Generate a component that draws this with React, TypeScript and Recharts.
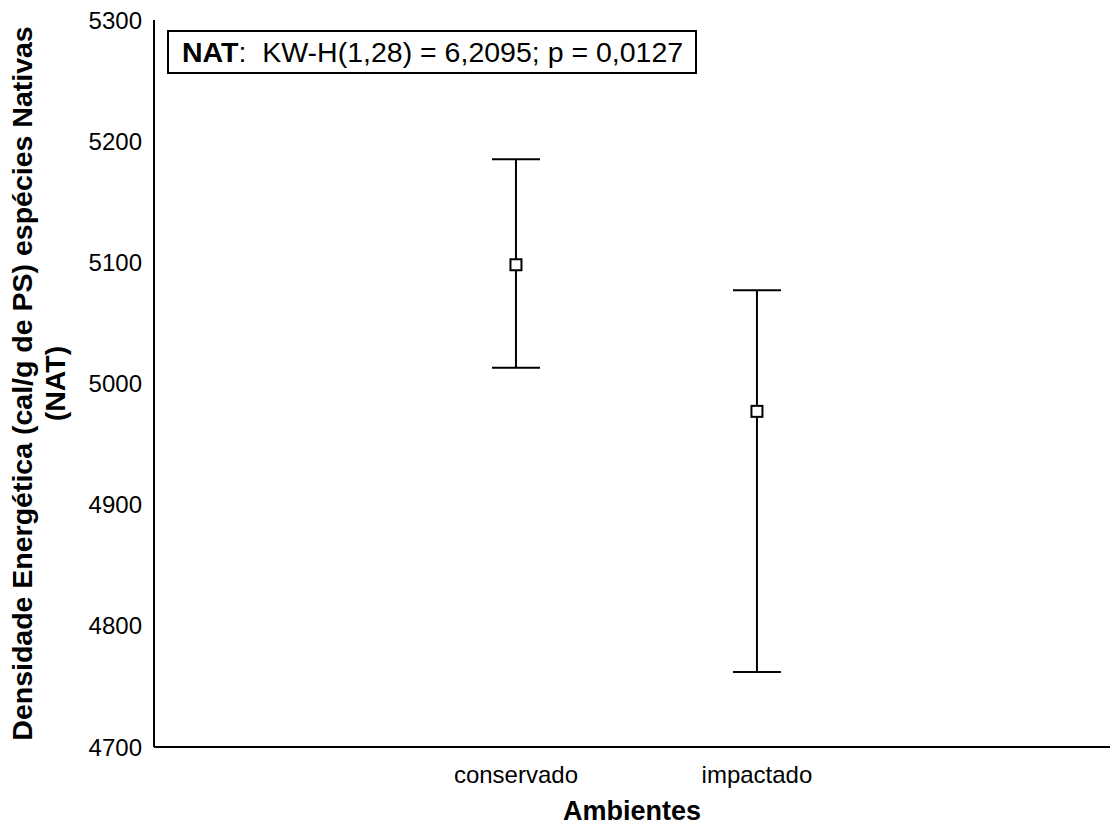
import React from 'react';
import {
  ComposedChart, Scatter, ErrorBar, XAxis, YAxis,
} from 'recharts';

const categories = ['conservado', 'impactado'];
const means = [5098, 4977];
const upper = [5185, 5077];
const lower = [5013, 4762];
const yTicks = [4700, 4800, 4900, 5000, 5100, 5200, 5300];

const FONT = '"Liberation Sans", Arial, sans-serif';

const data = categories.map((name, i) => ({
  x: i + 1,
  name,
  y: means[i],
  err: [means[i] - lower[i], upper[i] - means[i]],
}));

function SquareMarker({ cx, cy }: { cx?: number; cy?: number }) {
  if (cx == null || cy == null) return null;
  return (
    <rect x={cx - 5.5} y={cy - 5.5} width={11} height={11}
      fill="#fff" stroke="#000" strokeWidth={2} />
  );
}

function YTitle({ viewBox }: any) {
  const cy = viewBox.y + viewBox.height / 2;
  return (
    <g fontFamily={FONT} fontWeight="bold" fontSize={28.5} fill="#000">
      <text x={32} y={cy} textAnchor="middle" transform={`rotate(-90, 32, ${cy})`}>
        Densidade Energética (cal/g de PS) espécies Nativas
      </text>
      <text x={65} y={cy} textAnchor="middle" transform={`rotate(-90, 65, ${cy})`}>
        (NAT)
      </text>
    </g>
  );
}

function XTitle({ viewBox }: any) {
  const cx = viewBox.x + viewBox.width / 2;
  return (
    <text x={cx} y={820} textAnchor="middle" fontFamily={FONT}
      fontWeight="bold" fontSize={27} fill="#000">
      Ambientes
    </text>
  );
}

export default function App() {
  return (
    <div style={{ position: 'absolute', left: 0, top: 0, width: 1110, height: 829, background: '#fff' }}>
      <ComposedChart width={1110} height={829} data={data}
        margin={{ top: 20, right: 0, bottom: 0, left: 0 }}>
        <XAxis
          dataKey="x"
          type="number"
          domain={[-0.502, 3.465]}
          ticks={[1, 2]}
          tickFormatter={(v: number) => categories[v - 1] ?? ''}
          tick={{ fontFamily: FONT, fontSize: 24, fill: '#000' }}
          axisLine={{ stroke: '#000', strokeWidth: 2 }}
          tickLine={false}
          tickSize={6}
          tickMargin={13}
          height={82}
          label={<XTitle />}
        />
        <YAxis
          type="number"
          domain={[4700, 5300]}
          ticks={yTicks}
          tick={{ fontFamily: FONT, fontSize: 24, fill: '#000' }}
          axisLine={{ stroke: '#000', strokeWidth: 2 }}
          tickLine={false}
          tickSize={6}
          tickMargin={6}
          width={154}
          label={<YTitle />}
        />
        <Scatter dataKey="y" shape={<SquareMarker />} isAnimationActive={false}>
          <ErrorBar dataKey="err" direction="y" width={24} stroke="#000" strokeWidth={2} isAnimationActive={false} />
        </Scatter>
      </ComposedChart>
      <div style={{
        position: 'absolute', left: 167, top: 30, width: 530, height: 44,
        boxSizing: 'border-box', border: '2px solid #000', background: '#fff',
        fontFamily: FONT, fontSize: 28.5, color: '#000', display: 'flex',
        alignItems: 'center', paddingLeft: 13, whiteSpace: 'pre',
      }}>
        <b>NAT</b>{':  KW-H(1,28) = 6,2095; p = 0,0127'}
      </div>
    </div>
  );
}
